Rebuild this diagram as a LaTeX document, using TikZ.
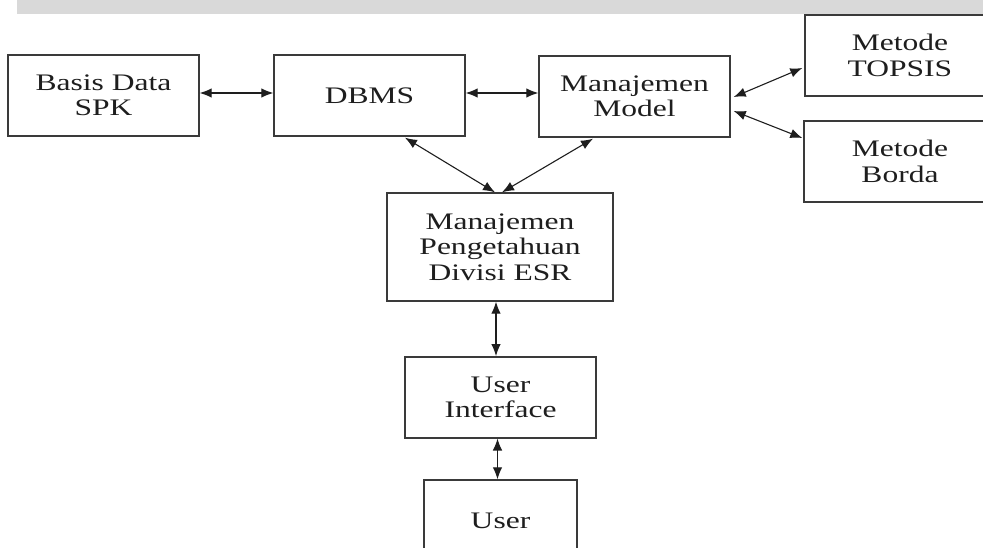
\documentclass[tikz,border=0pt]{standalone}
\usepackage{fontspec}
\setmainfont{Liberation Serif}[FakeStretch=1.33]
\usetikzlibrary{arrows.meta,calc}
\definecolor{edge}{HTML}{3A3A3A}
\definecolor{ink}{HTML}{1E1E1E}
\definecolor{band}{HTML}{D9D9D9}
\begin{document}
\begin{tikzpicture}[x=1pt,y=-1pt,
  block/.style={draw=edge,line width=1.4pt,fill=white,inner sep=0pt,
    align=center,text=ink,font=\fontsize{23.7}{25.5}\selectfont},
  link/.style={draw=ink,line width=1.1pt,
    {Latex[length=12pt,width=9.5pt]}-{Latex[length=12pt,width=9.5pt]}}]
\useasboundingbox (0,0) rectangle (983,547);
\clip (0,0) rectangle (983,547);
\fill[white] (0,0) rectangle (983,547);
% header band
\fill[band] (17,0) rectangle (983,14);

% blocks (positions are centres)
\node[block,minimum width=191pt,minimum height=81pt] (bd)   at (103.5,95.5) {Basis Data\\SPK};
\node[block,minimum width=191pt,minimum height=81pt] (dbms) at (369.5,95.5) {DBMS};
\node[block,minimum width=191pt,minimum height=81pt] (mm)   at (634.5,96.5) {Manajemen\\Model};
\node[block,minimum width=190pt,minimum height=81pt] (tp)   at (900,55.5) {Metode\\TOPSIS};
\node[block,minimum width=192pt,minimum height=81pt] (bo)   at (900,161.5) {Metode\\Borda};
\node[block,minimum width=226pt,minimum height=108pt] (mp)  at (500,247) {Manajemen\\Pengetahuan\\Divisi ESR};
\node[block,minimum width=191pt,minimum height=81pt] (ui)   at (500.5,397.3) {User\\Interface};
\node[block,minimum width=153pt,minimum height=81pt] (us)   at (500.5,520.5) {User};

% connectors
\draw[link] (bd.east |- 0,93) -- (dbms.west |- 0,93);
\draw[link] (dbms.east |- 0,93) -- (mm.west |- 0,93);
\draw[link] ($(dbms.south)+(35.5,1)$) -- ($(mp.north)+(-5,0)$);
\draw[link] ($(mm.south)+(-41.5,1)$) -- ($(mp.north)+(2,0)$);
\draw[link] ($(mm.east)+(3,0.5)$) -- ($(tp.west)+(-2,12.5)$);
\draw[link] ($(mm.east)+(3,14.5)$) -- ($(bo.west)+(-1,-23.5)$);
\draw[link] (mp.south -| 496,0) -- (ui.north -| 496,0);
\draw[link] (ui.south -| 497.5,0) -- (us.north -| 497.5,0);
\end{tikzpicture}
\end{document}
